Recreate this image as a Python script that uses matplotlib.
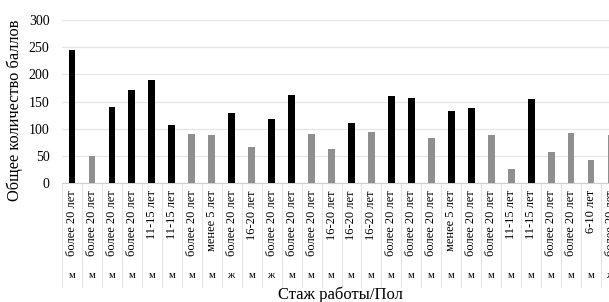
import matplotlib
matplotlib.use("Agg")
import matplotlib.pyplot as plt
from matplotlib.transforms import blended_transform_factory

plt.rcParams['font.family'] = ['Liberation Serif', 'DejaVu Serif']

experience = ["более 20 лет", "более 20 лет", "более 20 лет", "более 20 лет", "11-15 лет", "11-15 лет",
              "более 20 лет", "менее 5 лет", "более 20 лет", "16-20 лет", "более 20 лет", "более 20 лет",
              "более 20 лет", "16-20 лет", "16-20 лет", "16-20 лет", "более 20 лет", "более 20 лет",
              "более 20 лет", "менее 5 лет", "более 20 лет", "более 20 лет", "11-15 лет", "11-15 лет",
              "более 20 лет", "более 20 лет", "6-10 лет", "более 20 лет"]
gender = ["м", "м", "м", "м", "м", "м", "м", "м", "ж", "м", "ж", "м", "м", "м", "м", "м",
          "м", "м", "м", "м", "м", "м", "м", "м", "м", "м", "м", "ж"]
scores = [245, 50, 140, 172, 190, 107, 90, 88, 130, 67, 118, 162, 91, 63, 110, 95,
          160, 157, 83, 133, 138, 88, 26, 155, 58, 92, 42, 88]
highlight = [1, 0, 1, 1, 1, 1, 0, 0, 1, 0, 1, 1, 0, 0, 1, 0,
             1, 1, 0, 1, 1, 0, 0, 1, 0, 0, 0, 0]

W, H = 609, 302
fig = plt.figure(figsize=(W / 100, H / 100), dpi=100)
left, right, y0, y300 = 62, 621, 183.3, 20
ax = fig.add_axes([left / W, (H - y0) / H, (right - left) / W, (y0 - y300) / H])

n = len(scores)
xs = list(range(n))
colors = ['#000000' if h else '#8f8f8f' for h in highlight]
ax.bar(xs, scores, width=0.34, color=colors, zorder=3)

ax.set_xlim(-0.5, n - 0.5)
ax.set_ylim(0, 300)
ax.set_yticks([0, 50, 100, 150, 200, 250, 300])
ax.tick_params(axis='y', length=0, labelsize=10, pad=9)
ax.tick_params(axis='x', length=0, labelbottom=False)
ax.grid(axis='y', color='#e6e6e6', linewidth=0.9, zorder=0)
for s in ['top', 'right', 'left']:
    ax.spines[s].set_visible(False)
ax.spines['bottom'].set_color('#d0d0d0')
ax.spines['bottom'].set_linewidth(0.8)

ah = y0 - y300
def ay(py):
    return -(py - y0) / ah

tr = blended_transform_factory(ax.transData, ax.transAxes)
for i in range(n):
    ax.text(i, ay(190), experience[i], rotation=90, ha='center', va='top',
            fontsize=9.0, transform=tr, clip_on=False)
    ax.text(i, ay(276), gender[i], ha='center', va='center',
            fontsize=7.5, transform=tr, clip_on=False)
for i in range(n + 1):
    ax.plot([i - 0.5, i - 0.5], [ay(184), ay(287)], color='#e4e4e4', linewidth=0.8,
            transform=tr, clip_on=False)

fig.text(15 / W, 1 - 110 / H, "Общее количество баллов", rotation=90, ha='center', va='center',
         fontsize=11.8)
fig.text(340 / W, 1 - 295 / H, "Стаж работы/Пол", ha='center', va='center', fontsize=12)

fig.savefig("out.png", dpi=100)
